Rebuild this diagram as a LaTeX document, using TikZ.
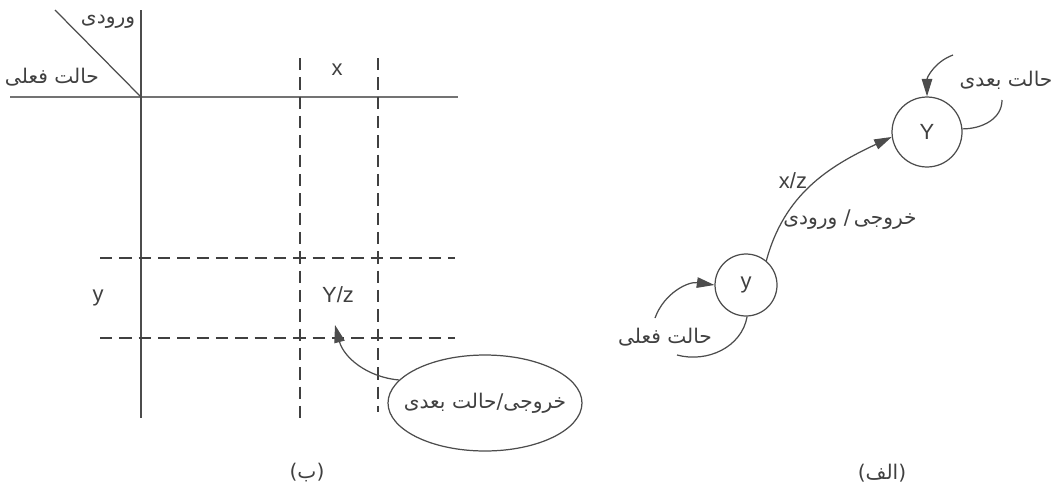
\documentclass[tikz,border=0pt]{standalone}
\usepackage{fontspec}
\setmainfont{Liberation Sans}
\newfontfamily\farsi[Script=Arabic]{DejaVu Sans}
\TeXXeTstate=1
\usetikzlibrary{arrows.meta,shapes.geometric}

\newcommand{\fa}[1]{{\farsi\beginR #1\endR}}

\tikzset{
  grid line/.style={draw=black!70, line width=0.7pt},
  cut line/.style={draw=black!75, line width=0.8pt, dash pattern=on 7pt off 4pt},
  state/.style={circle, draw=black!70, line width=0.7pt, inner sep=0pt,
    text=black!75, font=\fontsize{12.5}{14}\selectfont},
  lbl/.style={text=black!75, font=\fontsize{12.5}{14}\selectfont, inner sep=1pt},
  falbl/.style={text=black!75, font=\farsi\fontsize{11.5}{13}\selectfont, inner sep=1pt},
}

\begin{document}
\begin{tikzpicture}[x=0.02cm, y=0.02cm, >={Triangle[length=10pt,width=6pt]}]
  \useasboundingbox (0,0) rectangle (1053,488);

  % (b) the table
  \coordinate (HL) at (10,391);
  \coordinate (HR) at (458,391);
  \coordinate (VT) at (141,478);
  \coordinate (VB) at (141,70);
  \coordinate (O) at (141,391);
  \coordinate (D) at (55,478);

  \draw[black!55, line width=1.7pt] (HL) -- (HR);
  \draw[grid line] (VT) -- (VB);
  \draw[grid line] (D) -- (O);

  \draw[cut line] (300,430) -- (300,70);
  \draw[cut line] (378,430) -- (378,76);
  \draw[cut line] (100,230) -- (455,230);
  \draw[cut line] (100,150) -- (455,150);

  \node[falbl] (inp) at (108,466) {\fa{ورودی}};
  \node[falbl] (cur) at (52,411) {\fa{حالت فعلی}};
  \node[lbl] (xin) at (337,418) {x};
  \node[lbl] (yst) at (98,190) {y};
  \node[lbl] (cell) at (338,193) {Y/z};

  \node[ellipse, draw=black!70, line width=0.7pt, falbl, inner xsep=-0.45cm,
    minimum width=3.88cm, minimum height=1.92cm] (ell) at (485,85)
    {\fa{خروجی\kern0pt/\kern0pt{}حالت بعدی}};
  \coordinate (tip) at (335,163);
  \draw[grid line, ->] (ell.165) to[out=175, in=-75] (tip);

  \node[falbl] (capB) at (307,15) {\fa{(ب)}};

  % (a) the state graph
  \node[state, minimum size=1.24cm] (sy) at (746,203) {y};
  \node[state, minimum size=1.4cm] (bY) at (927,356) {Y};

  \draw[grid line, ->] (sy.50) to[out=75, in=205] (bY.188);
  \node[lbl] (xz) at (793,307) {x/z};
  \node[falbl] (io) at (850,268) {\fa{خروجی\,/ ورودی}};

  \coordinate (nIn) at (953,433);
  \coordinate (nOut) at (1002,388);
  \draw[grid line, ->] (nIn) to[out=200, in=90] (bY.north);
  \draw[grid line] (bY.5) to[out=0, in=-90] (nOut);
  \node[falbl] (nxt) at (1006,408) {\fa{حالت بعدی}};

  \coordinate (cIn) at (655,170);
  \coordinate (cOut) at (677,133);
  \draw[grid line, ->] (cIn) to[out=70, in=172] (sy.west);
  \draw[grid line] (sy.-88) to[out=-100, in=-15] (cOut);
  \node[falbl] (now) at (665,151) {\fa{حالت فعلی}};

  \node[falbl] (capA) at (882,15) {\fa{(الف)}};
\end{tikzpicture}
\end{document}
